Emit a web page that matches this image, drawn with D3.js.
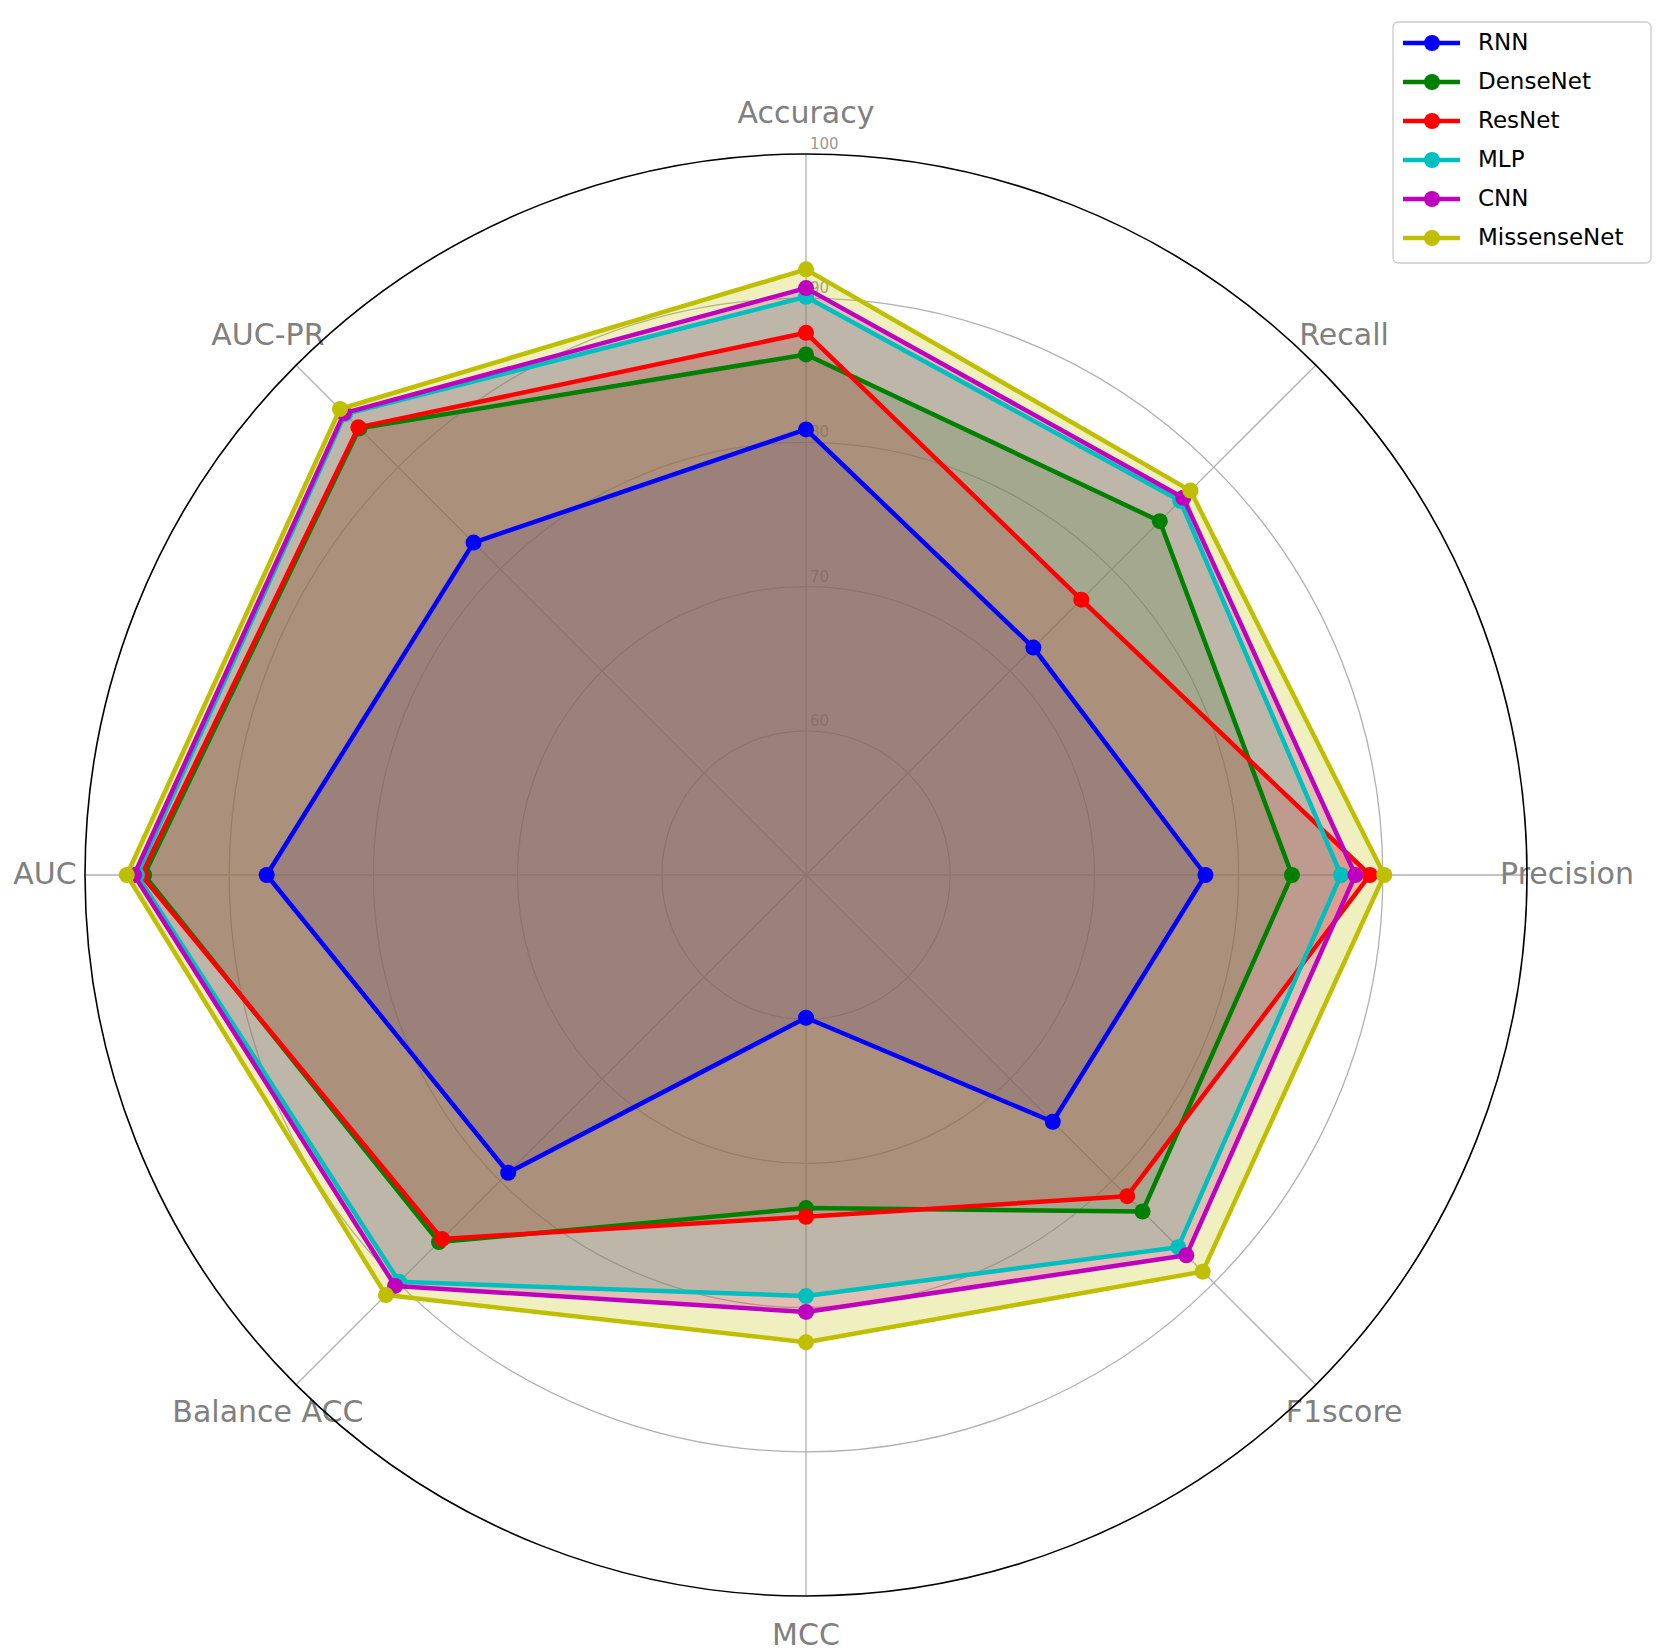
<!DOCTYPE html>
<html><head><meta charset="utf-8">
<script src="https://cdn.jsdelivr.net/npm/d3@7"></script>
<style>body{margin:0;background:#fff}</style></head>
<body><div id="radar"></div>
<script>
const axesNames = ["Accuracy","Recall","Precision","F1score","MCC","Balance ACC","AUC","AUC-PR"];
const models = ["RNN","DenseNet","ResNet","MLP","CNN","MissenseNet"];
const colors = ["#0000ff","#008000","#ff0000","#00bfbf","#bf00bf","#bfbf00"];
const rnn        = [80.9,72.3,77.7,74.2,59.9,79.2,87.4,82.6];
const densenet   = [86.1,84.7,83.7,83.0,73.1,86.0,95.9,93.8];
const resnet     = [87.6,77.0,89.1,81.5,73.7,85.7,96.1,93.9];
const mlp        = [90.1,86.7,87.1,86.5,79.2,89.9,96.4,95.2];
const cnn        = [90.7,87.0,88.1,87.3,80.3,90.3,96.6,95.3];
const missense   = [92.0,87.7,90.1,88.9,82.4,91.2,97.1,95.7];
const series = [rnn,densenet,resnet,mlp,cnn,missense];
const ticks = [60,70,80,90,100];

const W = 1665, H = 1650, cx = 806, cy = 875;
const R = 721;
const r = d3.scaleLinear().domain([50,100]).range([0,R]);
const ang = i => i * 2 * Math.PI / axesNames.length;
const pt = (i,v) => [cx + r(v)*Math.sin(ang(i)), cy - r(v)*Math.cos(ang(i))];

const svg = d3.select("#radar").append("svg").attr("width",W).attr("height",H)
  .style("font-family","'DejaVu Sans', sans-serif");

// grid
svg.selectAll("circle.grid").data(ticks.slice(0,-1)).enter().append("circle")
  .attr("cx",cx).attr("cy",cy).attr("r",d=>r(d))
  .attr("fill","none").attr("stroke","#b0b0b0").attr("stroke-width",1.3);
axesNames.forEach((a,i)=>{
  const [x,y] = pt(i,100);
  svg.append("line").attr("x1",cx).attr("y1",cy).attr("x2",x).attr("y2",y)
    .attr("stroke","#b0b0b0").attr("stroke-width",1.3);
  const [lx,ly] = pt(i,100 + 40/(R/50));
  svg.append("text").attr("x",lx).attr("y",ly).attr("text-anchor","middle")
    .attr("dominant-baseline","middle").attr("fill","#808080").attr("font-size",30).text(a);
});
svg.selectAll("text.tick").data(ticks).enter().append("text")
  .attr("x",cx+4).attr("y",d=>cy-r(d)-5).attr("fill","#999").attr("font-size",15).text(d=>d);

// series: fills first, then lines and markers on top
const line = d3.line().curve(d3.curveLinearClosed);
series.forEach((s,k)=>{
  svg.append("path").attr("d",line(s.map((v,i)=>pt(i,v))))
    .attr("fill",colors[k]).attr("fill-opacity",0.25).attr("stroke","none");
});
series.forEach((s,k)=>{
  const pts = s.map((v,i)=>pt(i,v));
  svg.append("path").attr("d",line(pts)).attr("fill","none")
    .attr("stroke",colors[k]).attr("stroke-width",4.5).attr("stroke-linejoin","round");
  svg.selectAll(null).data(pts).enter().append("circle")
    .attr("cx",d=>d[0]).attr("cy",d=>d[1]).attr("r",8).attr("fill",colors[k]);
});

svg.append("circle").attr("cx",cx).attr("cy",cy).attr("r",R)
  .attr("fill","none").attr("stroke","#000").attr("stroke-width",1.6);

// legend
const lg = svg.append("g").attr("transform","translate(1393,22)");
lg.append("rect").attr("width",258).attr("height",241).attr("rx",5)
  .attr("fill","#fff").attr("fill-opacity",0.85).attr("stroke","#ccc").attr("stroke-width",1.3);
models.forEach((m,k)=>{
  const y = 21 + k*39;
  lg.append("line").attr("x1",10).attr("x2",67).attr("y1",y).attr("y2",y)
    .attr("stroke",colors[k]).attr("stroke-width",4.5);
  lg.append("circle").attr("cx",39).attr("cy",y).attr("r",8).attr("fill",colors[k]);
  lg.append("text").attr("x",85).attr("y",y).attr("dominant-baseline","middle")
    .attr("font-size",23).attr("fill","#000").text(m);
});
</script></body></html>
